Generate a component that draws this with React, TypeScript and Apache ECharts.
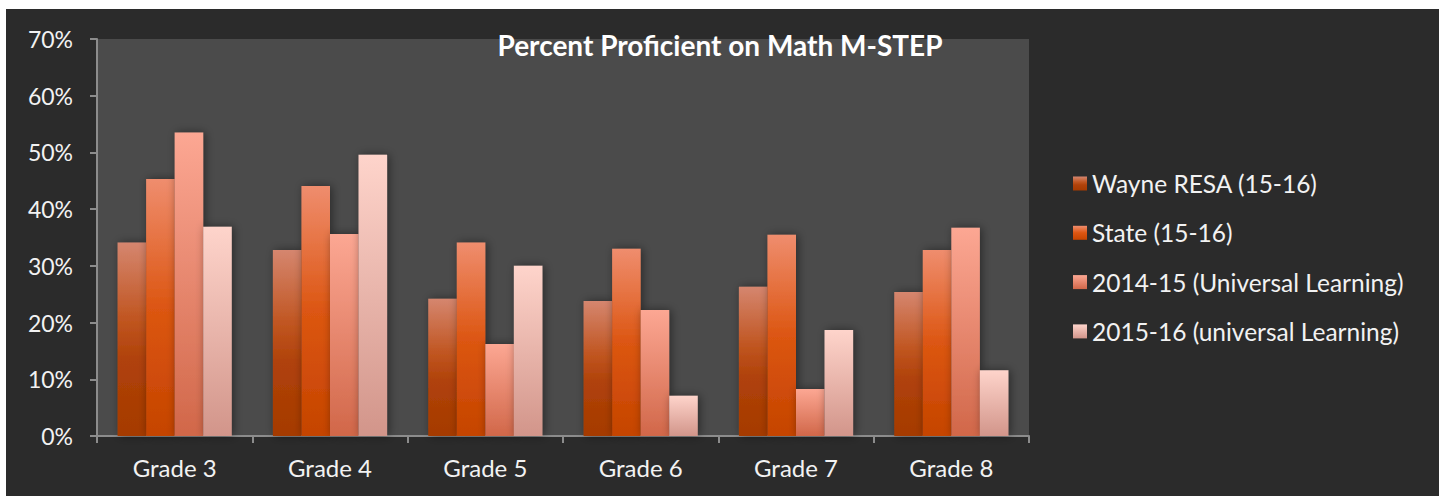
import React, { useEffect, useRef } from "react";
import * as echarts from "echarts";

const categories = ["Grade 3", "Grade 4", "Grade 5", "Grade 6", "Grade 7", "Grade 8"];
const seriesNames = [
  "Wayne RESA (15-16)",
  "State (15-16)",
  "2014-15 (Universal Learning)",
  "2015-16 (universal Learning)",
];
const wayneResa = [34.1, 32.8, 24.2, 23.8, 26.3, 25.4];
const state = [45.3, 44.1, 34.1, 33.0, 35.5, 32.8];
const ul1415 = [53.5, 35.6, 16.2, 22.2, 8.3, 36.7];
const ul1516 = [36.9, 49.6, 30.0, 7.1, 18.7, 11.6];
const yTicks = [0, 10, 20, 30, 40, 50, 60, 70];

const grad = (stops: [number, string][]) =>
  new echarts.graphic.LinearGradient(
    0,
    0,
    0,
    1,
    stops.map(([offset, color]) => ({ offset, color }))
  );

const colorStops: [number, string][][] = [
  [
    [0, "#d5866f"],
    [0.4, "#c05520"],
    [0.6, "#b0420a"],
    [1, "#a53a00"],
  ],
  [
    [0, "#ef8d6e"],
    [0.5, "#dc5612"],
    [1, "#c54400"],
  ],
  [
    [0, "#fca793"],
    [1, "#d16749"],
  ],
  [
    [0, "#fed4cb"],
    [1, "#d2958a"],
  ],
];

const FONT = "Lato, 'Open Sans', sans-serif";

export default function App() {
  const ref = useRef<HTMLDivElement>(null);
  useEffect(() => {
    if (!ref.current) return;
    const chart = echarts.init(ref.current, undefined, { renderer: "svg" });
    const data = [wayneResa, state, ul1415, ul1516];
    chart.setOption({
      animation: false,
      backgroundColor: "#2b2b2b",
      textStyle: { fontFamily: FONT },
      title: {
        text: "Percent Proficient on Math M-STEP",
        left: 714,
        top: 22,
        textAlign: "center",
        padding: 0,
        textStyle: {
          color: "#ffffff",
          fontSize: 28,
          fontWeight: "bold",
          fontFamily: FONT,
        },
      },
      legend: {
        orient: "vertical",
        left: 1062,
        top: 157,
        itemWidth: 14,
        itemHeight: 14,
        itemGap: 24.3,
        icon: "rect",
        data: seriesNames,
        textStyle: {
          color: "#f2f2f2",
          fontSize: 24.5,
          lineHeight: 24,
          fontFamily: FONT,
        },
      },
      grid: {
        left: 91,
        right: 410,
        top: 30,
        bottom: 60,
        show: true,
        backgroundColor: "#4b4b4b",
        borderWidth: 0,
      },
      xAxis: {
        type: "category",
        data: categories,
        axisLine: { lineStyle: { color: "#8c8c8c", width: 2 } },
        axisTick: { show: true, length: 7, lineStyle: { color: "#8c8c8c", width: 2 } },
        axisLabel: {
          color: "#f2f2f2",
          fontSize: 24,
          margin: 19,
          fontFamily: FONT,
        },
      },
      yAxis: {
        type: "value",
        min: 0,
        max: 70,
        interval: 10,
        axisLine: { show: true, lineStyle: { color: "#8c8c8c", width: 2 } },
        axisTick: { show: true, length: 7, lineStyle: { color: "#8c8c8c", width: 2 } },
        splitLine: { show: false },
        axisLabel: {
          color: "#f2f2f2",
          fontSize: 23,
          margin: 24,
          fontFamily: FONT,
          formatter: (v: number) => (yTicks.includes(v) ? `${v}%` : ""),
        },
      },
      series: seriesNames.map((name, i) => ({
        name,
        type: "bar",
        data: data[i],
        barGap: "0%",
        barCategoryGap: "26.5%",
        itemStyle: {
          color: grad(colorStops[i]),
          shadowBlur: 10,
          shadowColor: "rgba(0,0,0,0.45)",
          shadowOffsetX: 2,
          shadowOffsetY: 0,
        },
      })),
    });
    return () => chart.dispose();
  }, []);
  return (
    <div
      ref={ref}
      style={{
        position: "absolute",
        left: 6,
        top: 9,
        width: 1433,
        height: 487,
      }}
    />
  );
}
